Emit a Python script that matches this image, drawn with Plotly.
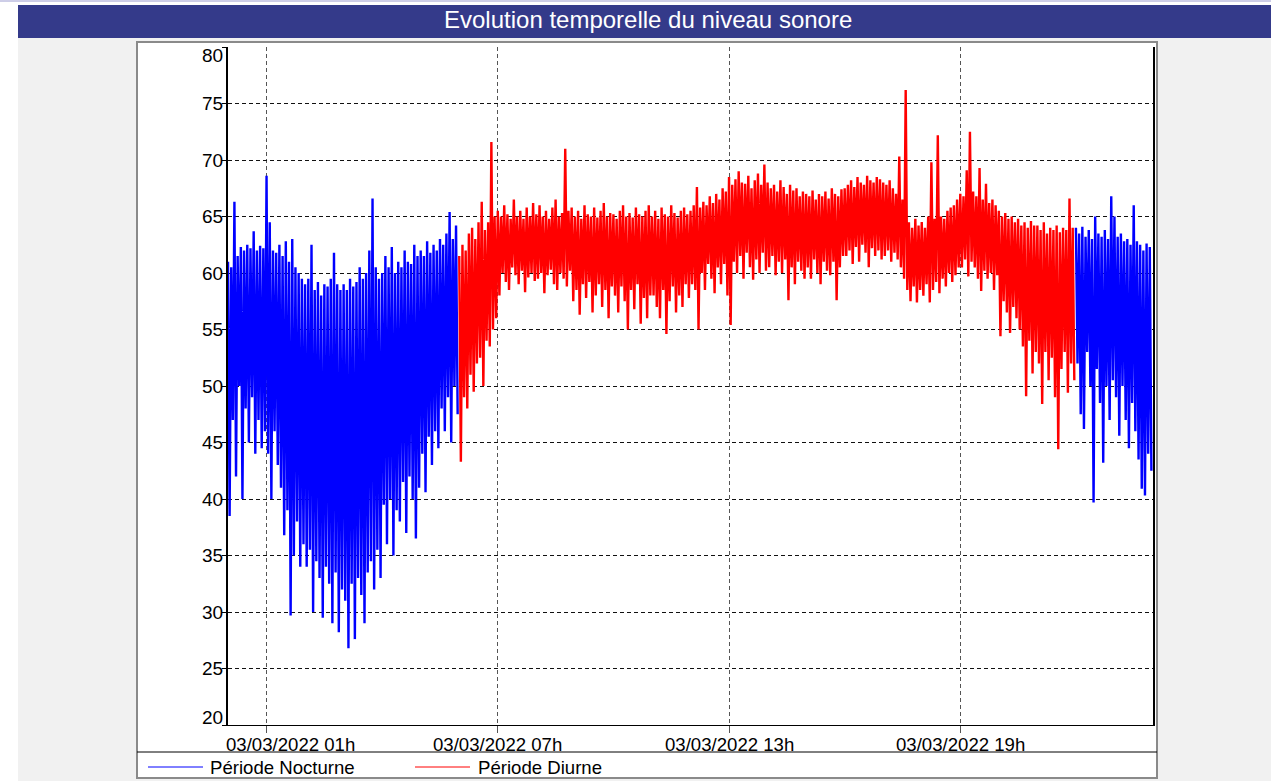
import plotly.graph_objects as go
from datetime import datetime, timedelta

# ---------------- data ----------------
title_text = "Evolution temporelle du niveau sonore"
series_names = ["Période Nocturne", "Période Diurne"]
series_colors = ["#0000ff", "#ff0000"]

tick_times = ["2022-03-03 01:00", "2022-03-03 07:00", "2022-03-03 13:00", "2022-03-03 19:00"]
tick_labels = ["03/03/2022 01h", "03/03/2022 07h", "03/03/2022 13h", "03/03/2022 19h"]
y_ticks = [20, 25, 30, 35, 40, 45, 50, 55, 60, 65, 70, 75, 80]
x_range = ["2022-03-03 00:00", "2022-03-04 00:00"]

step_minutes = 5          # one max / one min value every 5 minutes
night1_start = "2022-03-03 00:00"
day_start = "2022-03-03 06:00"
night2_start = "2022-03-03 22:00"

# Night 00h-06h : per 5 minutes, maximum and minimum level (dB)
night1_hi = [
    61.0, 60.5, 66.3, 61.5, 62.3, 62.0, 62.5, 62.2, 63.7, 62.0, 62.4, 62.2,
    68.6, 64.5, 62.0, 61.8, 62.5, 61.5, 62.8, 61.0, 63.0, 60.5, 60.0, 59.5,
    59.0, 59.5, 62.5, 58.5, 59.2, 58.0, 59.0, 58.8, 59.5, 61.8, 59.0, 58.5,
    59.0, 58.5, 59.5, 58.8, 59.2, 60.5, 59.5, 60.0, 62.0, 66.6, 60.5, 59.5,
    60.0, 61.5, 60.5, 62.3, 60.0, 61.0, 60.5, 62.0, 61.0, 60.8, 62.5, 61.5,
    62.0, 61.5, 62.8, 61.8, 62.5, 62.0, 63.0, 62.5, 63.5, 65.4, 63.0, 64.2,
]
night1_lo = [
    38.5, 47.0, 42.0, 50.0, 40.0, 48.0, 45.0, 49.0, 44.0, 47.0, 44.5, 46.0,
    44.0, 40.0, 46.0, 43.0, 41.0, 36.8, 39.0, 29.7, 35.0, 38.0, 34.0, 36.0,
    34.0, 35.5, 30.0, 34.5, 33.0, 29.5, 34.0, 32.5, 29.0, 33.5, 28.2, 32.0,
    31.0, 26.8, 32.5, 27.6, 33.0, 31.5, 29.0, 33.5, 34.5, 32.0, 35.5, 33.0,
    39.5, 36.0, 40.0, 35.0, 39.0, 38.0, 41.5, 37.0, 42.0, 40.0, 36.5, 41.0,
    44.0, 40.6, 45.5, 43.0, 46.0, 44.5, 48.0, 46.0, 49.0, 45.0, 50.0, 47.5,
]

# Day 06h-22h
day_hi = [
    61.5, 62.5, 62.0, 63.5, 64.0, 63.0, 64.5, 66.3, 63.8, 64.5, 71.6, 65.0,
    65.5, 65.0, 66.0, 65.2, 64.8, 66.5, 65.0, 65.5, 64.8, 65.8, 65.0, 66.2,
    65.2, 66.0, 65.0, 65.5, 64.8, 65.8, 66.5, 65.0, 65.3, 71.0, 65.5, 65.8,
    65.0, 65.5, 64.8, 66.0, 65.2, 65.0, 65.8, 64.9, 65.5, 66.2, 65.0, 65.3,
    65.2, 64.8, 65.5, 66.0, 65.0, 65.3, 64.9, 65.8, 65.2, 65.0, 65.5, 66.0,
    65.0, 65.5, 64.8, 65.8, 65.2, 65.0, 66.0, 65.3, 64.9, 65.5, 65.8, 65.2,
    65.5, 66.0, 67.6, 65.8, 66.3, 66.0, 66.8, 66.2, 67.0, 66.5, 67.5, 67.2,
    68.5, 67.8, 68.3, 69.0, 68.0, 67.9, 68.6, 67.5, 68.2, 68.8, 67.8, 69.6,
    68.0, 67.5, 67.8, 67.2, 68.2, 67.6, 67.0, 67.8, 67.3, 67.5, 66.8, 67.2,
    67.0, 66.8, 67.3, 66.5, 67.0, 66.8, 67.2, 66.6, 67.5, 67.0, 66.8, 67.4,
    67.5, 67.8, 68.2, 67.6, 68.5, 68.0, 67.8, 68.6, 68.2, 68.0, 68.5, 68.3,
    68.0, 67.8, 68.2, 67.5, 67.0, 70.3, 66.5, 76.2, 64.5, 64.0, 64.8, 64.2,
    64.5, 64.0, 65.0, 69.8, 64.8, 72.2, 65.0, 64.8, 65.5, 65.8, 66.0, 66.5,
    67.0, 66.8, 69.1, 72.5, 67.2, 66.8, 69.3, 66.5, 67.9, 66.2, 66.5, 66.0,
    65.5, 65.0, 65.3, 64.8, 65.0, 64.5, 64.8, 64.2, 64.5, 64.0, 64.6, 64.2,
    64.2, 63.8, 64.5, 63.5, 64.0, 63.8, 64.2, 63.6, 64.0, 63.8, 66.6, 64.0,
]
day_lo = [
    43.3, 49.0, 48.0, 51.0, 49.5, 52.0, 52.5, 50.0, 54.0, 53.5, 55.0, 56.0,
    58.0, 60.0, 59.2, 58.5, 60.5, 59.8, 59.0, 60.2, 58.3, 59.6, 60.0, 59.3,
    59.5, 60.0, 58.2, 59.8, 60.3, 59.0, 58.5, 60.0, 59.5, 58.8, 60.2, 57.5,
    58.5, 56.3, 59.0, 57.8, 59.2, 56.5, 58.0, 59.0, 57.0, 58.5, 56.0, 58.8,
    58.0, 56.5, 58.8, 57.5, 55.0, 58.5, 56.8, 59.0, 55.5, 57.8, 56.0, 58.0,
    58.0, 57.0, 56.0, 58.5, 54.6, 57.5, 58.8, 56.5, 58.0, 57.0, 59.0, 57.8,
    59.0, 58.5, 55.0, 60.0, 58.5, 60.8, 59.5, 58.2, 60.5, 59.0, 60.8, 58.0,
    55.4, 61.0, 60.0, 61.5, 59.5, 61.8, 60.5, 59.4, 61.2, 60.0, 61.8, 60.2,
    60.5, 61.5, 59.8, 61.0, 60.0, 61.2, 57.6, 60.5, 59.0, 61.0, 60.2, 59.5,
    60.5, 59.5, 61.2, 60.0, 59.0, 61.0, 60.2, 59.8, 61.0, 57.6, 60.5, 61.5,
    61.5, 62.0, 60.8, 62.3, 61.0, 62.5, 61.8, 60.5, 62.2, 61.5, 62.0, 61.2,
    61.5, 62.0, 61.0, 61.8, 61.2, 60.5, 59.5, 58.5, 57.5, 58.8, 57.4, 58.5,
    58.0, 59.0, 57.4, 58.5, 59.2, 58.2, 59.5, 58.8, 60.0, 59.2, 59.8, 60.5,
    60.5, 61.2, 59.7, 61.0, 60.5, 59.5, 58.4, 60.2, 59.5, 60.0, 58.5, 59.8,
    54.4, 57.5, 56.5, 54.7, 57.0, 56.0, 55.0, 53.5, 49.1, 54.0, 51.1, 53.0,
    52.0, 48.4, 53.0, 50.5, 52.5, 49.0, 44.4, 51.5, 53.0, 49.4, 52.0, 50.5,
]

# Night 22h-24h
night2_hi = [
    64.0, 63.5, 64.1, 63.2, 63.8, 63.0, 65.0, 63.5, 63.2, 63.8, 63.0, 66.8,
    65.0, 63.2, 63.5, 62.8, 63.0, 62.5, 66.0, 62.8, 62.5, 62.0, 62.6, 62.3,
]
night2_lo = [
    52.0, 47.5, 46.2, 53.0, 50.0, 39.7, 51.5, 48.5, 43.2, 50.0, 47.0, 50.5,
    49.0, 45.6, 50.0, 47.0, 44.5, 48.5, 46.0, 43.5, 40.9, 40.3, 44.0, 42.5,
]

# ---------------- build ----------------
def zigzag(start, hi, lo):
    t0 = datetime.strptime(start, "%Y-%m-%d %H:%M")
    xs, ys = [], []
    for i, (h, l) in enumerate(zip(hi, lo)):
        t = t0 + timedelta(minutes=step_minutes * i)
        xs.append(t.strftime("%Y-%m-%d %H:%M:%S")); ys.append(h)
        t2 = t + timedelta(minutes=step_minutes / 2)
        xs.append(t2.strftime("%Y-%m-%d %H:%M:%S")); ys.append(l)
    return xs, ys

fig = go.Figure()
for start, hi, lo, name, col in [
    (night1_start, night1_hi, night1_lo, series_names[0], series_colors[0]),
    (day_start, day_hi, day_lo, series_names[1], series_colors[1]),
    (night2_start, night2_hi, night2_lo, series_names[0], series_colors[0]),
]:
    xs, ys = zigzag(start, hi, lo)
    fig.add_trace(go.Scatter(x=xs, y=ys, mode="lines", name=name,
                             line=dict(color=col, width=2.4), hoverinfo="skip"))

W, H = 1271, 781
L, R, T, B = 228, 1153, 47, 725

def px(x):
    return (x - L) / (R - L)

def py(y):
    return (B - y) / (B - T)

shapes = [
    dict(type="rect", xref="paper", yref="paper", x0=px(0), x1=px(18), y0=py(H), y1=py(0),
         fillcolor="white", line=dict(width=0), layer="below"),
    dict(type="rect", xref="paper", yref="paper", x0=px(18), x1=px(W), y0=py(5), y1=py(0),
         fillcolor="white", line=dict(width=0), layer="below"),
    dict(type="line", xref="paper", yref="paper", x0=px(0), x1=px(W), y0=py(1), y1=py(1),
         line=dict(color="#9c9cd0", width=1), layer="below"),
    dict(type="rect", xref="paper", yref="paper", x0=px(18), x1=px(W), y0=py(38), y1=py(5),
         fillcolor="#343a8a", line=dict(width=0), layer="below"),
    dict(type="rect", xref="paper", yref="paper", x0=px(137), x1=px(1157), y0=py(778), y1=py(42),
         fillcolor="white", line=dict(color="#8a8a8a", width=2), layer="below"),
    dict(type="line", xref="paper", yref="paper", x0=px(137), x1=px(1157), y0=py(752), y1=py(752),
         line=dict(color="#000000", width=1), layer="below"),
    dict(type="line", xref="paper", yref="paper", x0=px(148), x1=px(203), y0=py(767), y1=py(767),
         line=dict(color=series_colors[0], width=1)),
    dict(type="line", xref="paper", yref="paper", x0=px(415), x1=px(470), y0=py(767), y1=py(767),
         line=dict(color=series_colors[1], width=1)),
]

font_family = "Liberation Sans, Arial, sans-serif"
annotations = [
    dict(text=title_text, xref="paper", yref="paper", x=px(648), y=py(19), showarrow=False,
         xanchor="center", yanchor="middle", font=dict(family=font_family, size=24, color="white")),
    dict(text=series_names[0], xref="paper", yref="paper", x=px(208), y=py(767), showarrow=False,
         xanchor="left", yanchor="middle", font=dict(family=font_family, size=18.6, color="black")),
    dict(text=series_names[1], xref="paper", yref="paper", x=px(476), y=py(767), showarrow=False,
         xanchor="left", yanchor="middle", font=dict(family=font_family, size=18.6, color="black")),
]

# y tick labels (right aligned against the tick marks; end labels kept inside the frame)
for v in y_ticks:
    shift = -8 if v == y_ticks[-1] else (8 if v == y_ticks[0] else 0)
    annotations.append(dict(text=str(v), xref="paper", yref="y", x=px(225), y=v, yshift=shift,
                            showarrow=False, xanchor="right", yanchor="middle",
                            font=dict(family=font_family, size=19, color="black")))

# x tick labels (first one kept inside the frame, the others centred on their tick)
for i, (tv, tl) in enumerate(zip(tick_times, tick_labels)):
    if i == 0:
        annotations.append(dict(text=tl, xref="x", yref="paper", x=x_range[0], y=py(744),
                                xshift=-4, showarrow=False, xanchor="left", yanchor="middle",
                                font=dict(family=font_family, size=18.6, color="black")))
    else:
        annotations.append(dict(text=tl, xref="x", yref="paper", x=tv, y=py(744),
                                showarrow=False, xanchor="center", yanchor="middle",
                                font=dict(family=font_family, size=18.6, color="black")))

fig.update_layout(
    width=W, height=H,
    margin=dict(l=L, r=W - R, t=T, b=H - B, pad=0),
    paper_bgcolor="#f1f1f1", plot_bgcolor="white",
    showlegend=False,
    font=dict(family=font_family, size=18, color="black"),
    shapes=shapes, annotations=annotations,
    xaxis=dict(type="date", range=x_range, tickvals=tick_times, ticktext=tick_labels,
               showticklabels=False,
               ticks="outside", ticklen=7, tickcolor="#555555",
               showgrid=True, gridcolor="#555555", gridwidth=1, griddash="4px,3px",
               showline=True, linecolor="black", linewidth=1, zeroline=False),
    yaxis=dict(range=[20, 80], tickvals=y_ticks, showticklabels=False,
               ticks="outside", ticklen=4, tickcolor="black",
               showgrid=True, gridcolor="#111111", gridwidth=1, griddash="4px,3px",
               showline=True, linecolor="black", linewidth=2, mirror=True, zeroline=False),
)

fig.write_html("out.html", config={"displayModeBar": False},
               post_script="document.body.style.margin='0';document.body.style.overflow='hidden';")
